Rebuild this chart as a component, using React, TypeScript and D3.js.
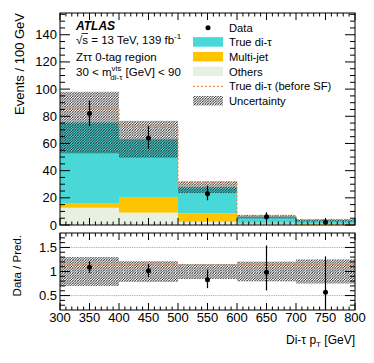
import * as d3 from "d3";

// bin edges and per-bin content (events / 100 GeV)
const edges = [300, 400, 500, 600, 700, 800];
const others = [12.7, 9.1, 2.4, 0.8, 0.4];
const multijet = [3.0, 11.0, 6.2, 0.9, 0.5];
const trueDiTau = [59.7, 43.0, 19.2, 4.4, 2.6];
const beforeSF = [86.0, 72.0, 31.5, 7.0, 4.0];
const uncRel = [0.3, 0.215, 0.155, 0.205, 0.25];
const dataVals = [82, 64, 23, 6, 2];
const dataErrUp = [9.5, 9.0, 5.9, 3.4, 2.6];
const dataErrDown = [9.0, 8.0, 4.8, 2.3, 1.3];

const xTicks = [300, 350, 400, 450, 500, 550, 600, 650, 700, 750, 800];
const yTicks = [0, 20, 40, 60, 80, 100, 120, 140];
const rTicks = [0.5, 1, 1.5];

const colors = { tdt: "#48d8d8", mj: "#ffc400", oth: "#e8f1df", sf: "#f28a4b" };
const FONT = "Liberation Sans, Arial, Helvetica, sans-serif";

const W = 374, H = 363;
const left = 60, right = 355;
const mainTop = 13, mainBot = 225;
const ratTop = 233, ratBot = 310;

export default function App() {
  const x = d3.scaleLinear().domain([300, 800]).range([left, right]);
  const y = d3.scaleLinear().domain([0, 156]).range([mainBot, mainTop]);
  const r = d3.scaleLinear().domain([0.2, 1.8]).range([ratBot, ratTop]);

  const bins = edges.slice(0, -1).map((lo, i) => {
    const hi = edges[i + 1];
    const pred = others[i] + multijet[i] + trueDiTau[i];
    return { lo, hi, mid: (lo + hi) / 2, pred, i };
  });

  const stepPath = (vals: number[], sc: d3.ScaleLinear<number, number>) => {
    let p = "";
    bins.forEach((b, i) => {
      p += (i === 0 ? "M" : "L") + x(b.lo) + "," + sc(vals[i]) + "L" + x(b.hi) + "," + sc(vals[i]);
    });
    return p;
  };

  const xMinor = d3.range(300, 801, 10);
  const yMinor = d3.range(0, 156, 5);
  const rMinor = d3.range(0.3, 1.8, 0.1);

  const legend = [
    { label: "Data", kind: "dot" },
    { label: "True di-τ", kind: "fill", color: colors.tdt },
    { label: "Multi-jet", kind: "fill", color: colors.mj },
    { label: "Others", kind: "fill", color: colors.oth },
    { label: "True di-τ (before SF)", kind: "dash" },
    { label: "Uncertainty", kind: "hatch" },
  ];

  return (
    <svg width={W} height={H} style={{ position: "absolute", left: 0, top: 0, background: "#fff" }} fontFamily={FONT}>
      <defs>
        <pattern id="hatch" patternUnits="userSpaceOnUse" width={2.6} height={2.6}>
          <path d="M-1,1.3 l2.3,-2.3 M0,2.6 l2.6,-2.6 M1.3,3.6 l2.3,-2.3" stroke="#1a1a1a" strokeWidth={0.85} />
        </pattern>
      </defs>

      {/* main panel stack */}
      {bins.map((b) => {
        const o = others[b.i], m = multijet[b.i], t = trueDiTau[b.i];
        const w = x(b.hi) - x(b.lo);
        return (
          <g key={"s" + b.i}>
            <rect x={x(b.lo)} width={w} y={y(o)} height={y(0) - y(o)} fill={colors.oth} />
            <rect x={x(b.lo)} width={w} y={y(o + m)} height={y(o) - y(o + m)} fill={colors.mj} />
            <rect x={x(b.lo)} width={w} y={y(o + m + t)} height={y(o + m) - y(o + m + t)} fill={colors.tdt} />
          </g>
        );
      })}
      {bins.map((b) => {
        const hi = b.pred * (1 + uncRel[b.i]), lo = b.pred * (1 - uncRel[b.i]);
        return <rect key={"u" + b.i} x={x(b.lo)} width={x(b.hi) - x(b.lo)} y={y(hi)} height={y(lo) - y(hi)} fill="url(#hatch)" />;
      })}
      <path d={stepPath(beforeSF, y)} fill="none" stroke={colors.sf} strokeWidth={1.3} strokeDasharray="2,2" />
      {bins.map((b) => (
        <g key={"d" + b.i}>
          <line x1={x(b.mid)} x2={x(b.mid)} y1={y(dataVals[b.i] + dataErrUp[b.i])} y2={y(dataVals[b.i] - dataErrDown[b.i])} stroke="#000" strokeWidth={1.2} />
          <circle cx={x(b.mid)} cy={y(dataVals[b.i])} r={2.5} fill="#000" />
        </g>
      ))}

      {/* main panel frame & ticks */}
      <rect x={left} y={mainTop} width={right - left} height={mainBot - mainTop} fill="none" stroke="#000" strokeWidth={1} />
      {yMinor.map((v) => {
        const len = v % 20 === 0 ? 10 : 5;
        return (
          <g key={"ym" + v} stroke="#000" strokeWidth={1}>
            <line x1={left} x2={left + len} y1={y(v)} y2={y(v)} />
            <line x1={right} x2={right - len} y1={y(v)} y2={y(v)} />
          </g>
        );
      })}
      {xMinor.map((v) => {
        const len = v % 50 === 0 ? 7 : 3.5;
        return (
          <g key={"xm" + v} stroke="#000" strokeWidth={1}>
            <line x1={x(v)} x2={x(v)} y1={mainBot} y2={mainBot - len} />
            <line x1={x(v)} x2={x(v)} y1={mainTop} y2={mainTop + len} />
            <line x1={x(v)} x2={x(v)} y1={ratBot} y2={ratBot - len} />
            <line x1={x(v)} x2={x(v)} y1={ratTop} y2={ratTop + len} />
          </g>
        );
      })}
      {yTicks.map((v) => (
        <text key={"yl" + v} x={left - 3} y={y(v) + 4.5} textAnchor="end" fontSize={13}>{v}</text>
      ))}
      <text transform={`translate(24,${mainTop}) rotate(-90)`} textAnchor="end" fontSize={13}>Events / 100 GeV</text>

      {/* labels */}
      <text x={76} y={29.5} fontSize={12} fontWeight="bold" fontStyle="italic">ATLAS</text>
      <line x1={81.5} x2={88} y1={33.5} y2={33.5} stroke="#000" strokeWidth={0.8} />
      <text x={76} y={44} fontSize={11.5}>√s = 13 TeV, 139 fb<tspan dy={-5} fontSize={8}>-1</tspan></text>
      <text x={76} y={61} fontSize={11.5}>Zττ 0-tag region</text>
      <text x={76} y={76} fontSize={11.5}>
        30 &lt; m
        <tspan dy={-5} fontSize={8}>vis</tspan>
        <tspan dx={-11} dy={9} fontSize={8}>di-τ</tspan>
        <tspan dy={-4}> [GeV] &lt; 90</tspan>
      </text>

      {/* legend */}
      {legend.map((l, i) => {
        const yy = 31.5 + i * 14.7;
        let sw;
        if (l.kind === "dot") sw = <circle cx={208} cy={yy - 3.8} r={2.5} fill="#000" />;
        else if (l.kind === "fill") sw = <rect x={193} y={yy - 9} width={30} height={9.5} fill={l.color} />;
        else if (l.kind === "dash") sw = <line x1={193} x2={223} y1={yy - 4} y2={yy - 4} stroke={colors.sf} strokeWidth={1.3} strokeDasharray="2,2" />;
        else sw = <rect x={193} y={yy - 9} width={30} height={9.5} fill="url(#hatch)" />;
        return (
          <g key={"lg" + i}>
            {sw}
            <text x={229} y={yy} fontSize={11.2}>{l.label}</text>
          </g>
        );
      })}

      {/* ratio panel */}
      {bins.map((b) => (
        <rect key={"ru" + b.i} x={x(b.lo)} width={x(b.hi) - x(b.lo)} y={r(1 + uncRel[b.i])} height={r(1 - uncRel[b.i]) - r(1 + uncRel[b.i])} fill="url(#hatch)" />
      ))}
      {rTicks.map((v) => (
        <line key={"rg" + v} x1={left} x2={right} y1={r(v)} y2={r(v)} stroke="#aaa" strokeWidth={1} strokeDasharray="1,0.8" />
      ))}
      <path d={stepPath(beforeSF.map((v, i) => v / bins[i].pred), r)} fill="none" stroke={colors.sf} strokeWidth={1.3} strokeDasharray="2,2" />
      {bins.map((b) => {
        const p = b.pred;
        const top = Math.min(1.8, (dataVals[b.i] + dataErrUp[b.i]) / p);
        const bot = Math.max(0.2, (dataVals[b.i] - dataErrDown[b.i]) / p);
        return (
          <g key={"rd" + b.i}>
            <line x1={x(b.mid)} x2={x(b.mid)} y1={r(top)} y2={r(bot)} stroke="#000" strokeWidth={1.2} />
            <circle cx={x(b.mid)} cy={r(dataVals[b.i] / p)} r={2.5} fill="#000" />
          </g>
        );
      })}
      <rect x={left} y={ratTop} width={right - left} height={ratBot - ratTop} fill="none" stroke="#000" strokeWidth={1} />
      {rMinor.map((v) => {
        const major = Math.abs(v * 2 - Math.round(v * 2)) < 1e-6;
        const len = major ? 10 : 5;
        return (
          <g key={"rm" + v.toFixed(2)} stroke="#000" strokeWidth={1}>
            <line x1={left} x2={left + len} y1={r(v)} y2={r(v)} />
            <line x1={right} x2={right - len} y1={r(v)} y2={r(v)} />
          </g>
        );
      })}
      {rTicks.map((v) => (
        <text key={"rl" + v} x={left - 3} y={r(v) + 4.5} textAnchor="end" fontSize={13}>{v}</text>
      ))}
      <text transform={`translate(21,${ratTop + 2}) rotate(-90)`} textAnchor="end" fontSize={11.5}>Data / Pred.</text>
      {xTicks.map((v) => (
        <text key={"xl" + v} x={x(v)} y={322} textAnchor="middle" fontSize={13}>{v}</text>
      ))}
      <text x={right} y={344} textAnchor="end" fontSize={12}>
        Di-τ p<tspan dy={3} fontSize={8}>T</tspan><tspan dy={-3}> [GeV]</tspan>
      </text>
    </svg>
  );
}
